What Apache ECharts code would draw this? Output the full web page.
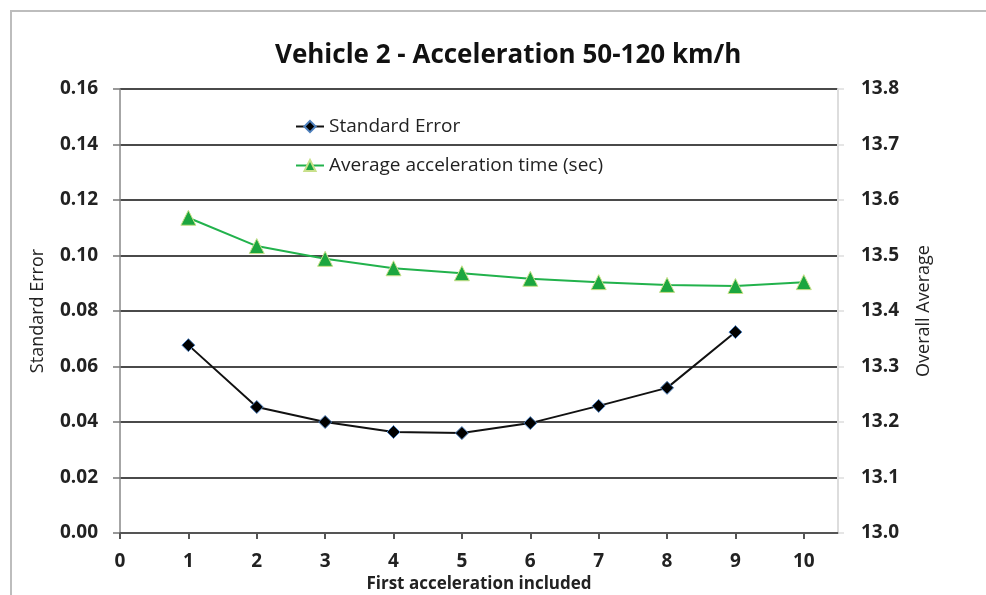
<!DOCTYPE html>
<html>
<head>
<meta charset="utf-8">
<script src="https://cdn.jsdelivr.net/npm/echarts@6/dist/echarts.min.js"></script>
<style>
html,body{margin:0;padding:0;background:#fff;}
#frame{position:absolute;left:10px;top:10px;width:990px;height:600px;border-left:2px solid #bdbdbd;border-top:2px solid #bdbdbd;}
#c{position:absolute;left:0;top:0;width:986px;height:595px;}
</style>
</head>
<body>
<div id="frame"></div>
<div id="c"></div>
<script>
const xTicks = [0,1,2,3,4,5,6,7,8,9,10];
const firstAccel = [1,2,3,4,5,6,7,8,9,10];
const standardError = [0.0677,0.0454,0.0400,0.0364,0.0360,0.0396,0.0458,0.0523,0.0724];
const avgAccelTime = [13.568,13.517,13.494,13.477,13.468,13.458,13.452,13.447,13.445,13.452];

const seData = standardError.map((v,i)=>[firstAccel[i], v]);
const avgData = avgAccelTime.map((v,i)=>[firstAccel[i], v]);

const chart = echarts.init(document.getElementById('c'));
const font = '"Open Sans", "Liberation Sans", sans-serif';
chart.setOption({
  backgroundColor: 'transparent',
  animation: false,
  title: {
    text: 'Vehicle 2 - Acceleration 50-120 km/h',
    left: 270, top: 38,
    textStyle: {fontFamily: font, fontSize: 26, fontWeight: 'bold', color: '#111'}
  },
  legend: {
    orient: 'vertical', left: 290, top: 112, itemGap: 20,
    itemWidth: 28, itemHeight: 14,
    textStyle: {fontFamily: font, fontSize: 19, color: '#222'},
    data: ['Standard Error','Average acceleration time (sec)']
  },
  grid: {left: 120, right: 148, top: 89, bottom: 62, containLabel: false, outerBoundsMode: 'none'},
  xAxis: {
    type: 'value', min: 0, max: 10.5, interval: 1,
    name: 'First acceleration included', nameLocation: 'middle', nameGap: 42,
    nameTextStyle: {fontFamily: font, fontSize: 17, fontWeight: 'bold', color: '#222'},
    axisLine: {show: true, onZero: false, lineStyle: {color: '#555', width: 2}},
    axisTick: {show: true, customValues: xTicks, length: 6, lineStyle: {color: '#555', width: 2}},
    axisLabel: {customValues: xTicks, fontFamily: font, fontSize: 19, fontWeight: 'bold', color: '#222', margin: 19},
    splitLine: {show: false}
  },
  yAxis: [{
    type: 'value', min: 0, max: 0.16, interval: 0.02,
    name: 'Standard Error', nameLocation: 'middle', nameGap: 73,
    nameTextStyle: {fontFamily: font, fontSize: 18, color: '#222'},
    axisLine: {show: true, lineStyle: {color: '#888', width: 1.5}},
    axisTick: {show: true, length: 7, lineStyle: {color: '#777', width: 1.5}},
    axisLabel: {fontFamily: font, fontSize: 19, fontWeight: 'bold', color: '#222', margin: 22,
      formatter: v => v.toFixed(2)},
    splitLine: {show: true, lineStyle: {color: '#4a4a4a', width: 2}}
  },{
    type: 'value', min: 13.0, max: 13.8, interval: 0.1, position: 'right',
    name: 'Overall Average', nameLocation: 'middle', nameGap: 77,
    nameRotate: 90,
    nameTextStyle: {fontFamily: font, fontSize: 18, color: '#222'},
    axisLine: {show: true, lineStyle: {color: '#ddd', width: 2}},
    axisTick: {show: true, length: 6, lineStyle: {color: '#ddd', width: 1.5}},
    axisLabel: {fontFamily: font, fontSize: 19, fontWeight: 'bold', color: '#222', margin: 23,
      formatter: v => v.toFixed(1)},
    splitLine: {show: false}
  }],
  series: [{
    name: 'Standard Error', type: 'line', yAxisIndex: 0, data: seData,
    symbol: 'diamond', symbolSize: 13,
    lineStyle: {color: '#111', width: 2},
    itemStyle: {color: '#000', borderColor: '#4f81bd', borderWidth: 1}
  },{
    name: 'Average acceleration time (sec)', type: 'line', yAxisIndex: 1, data: avgData,
    symbol: 'triangle', symbolSize: 15,
    lineStyle: {color: '#22b24c', width: 2},
    itemStyle: {color: '#1ca63f', borderColor: '#c8e08a', borderWidth: 1}
  }]
});
</script>
</body>
</html>
